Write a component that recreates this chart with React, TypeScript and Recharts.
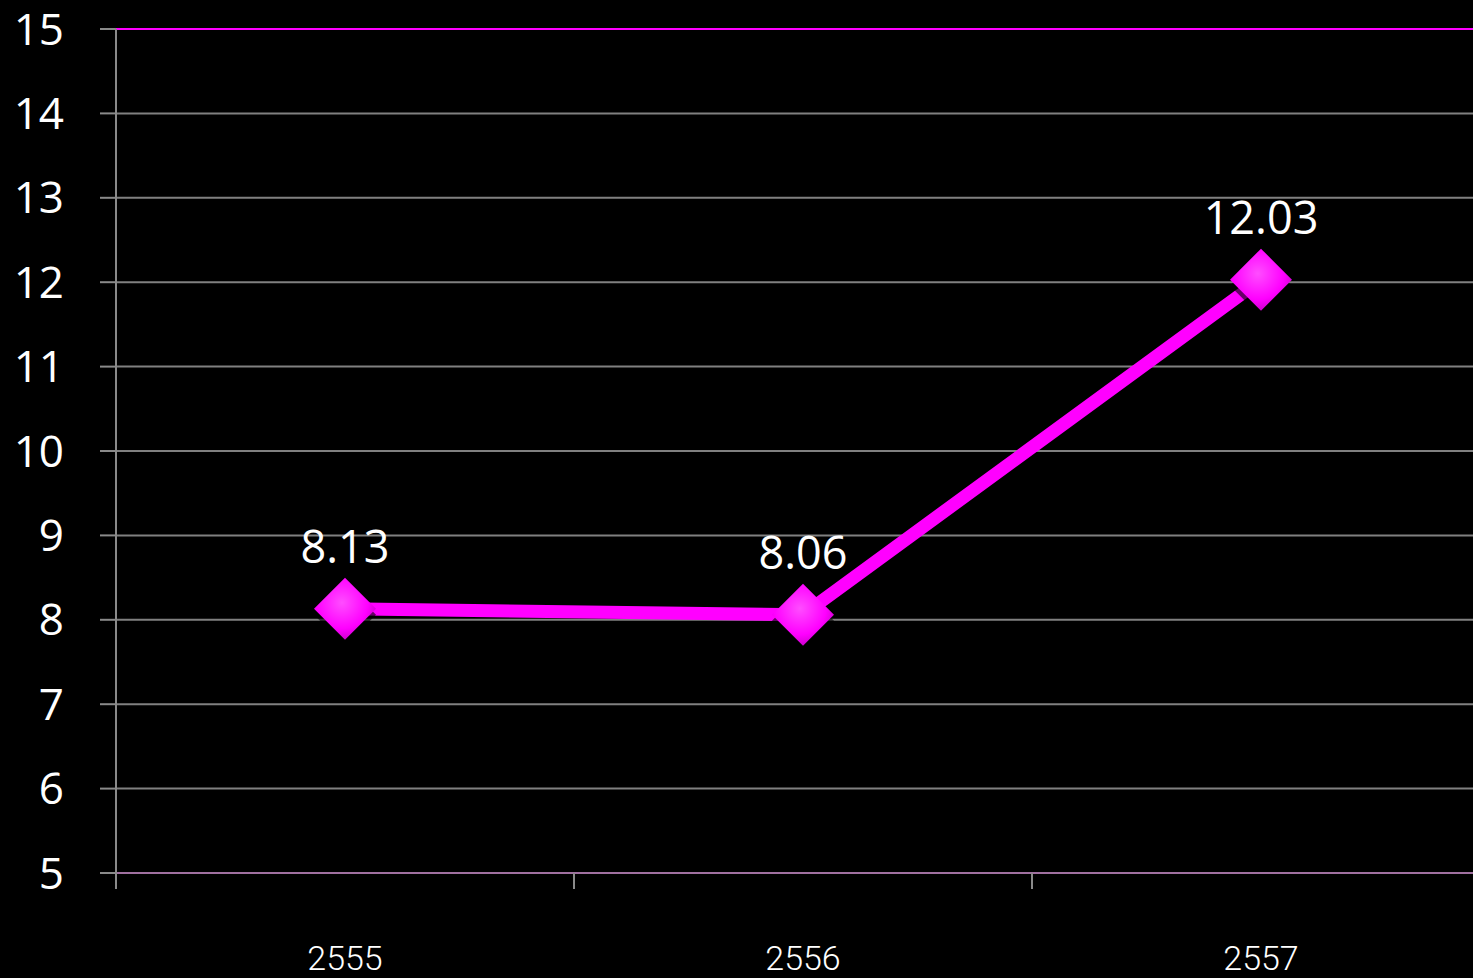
import React from 'react';
import { ComposedChart, Line, XAxis, YAxis, CartesianGrid, ReferenceLine, LabelList } from 'recharts';

const years = ['2555', '2556', '2557'];
const values = [8.13, 8.06, 12.03];
const yTicks = [5, 6, 7, 8, 9, 10, 11, 12, 13, 14, 15];

const data = years.map((year, i) => ({ year, value: values[i] }));

const CHART_W = 1490;
const CHART_H = 978;
const Y_AXIS_W = 116;
const BAND = (CHART_W - Y_AXIS_W) / years.length;

function XTick(props: any) {
  const { x, y, payload } = props;
  const left = x - BAND / 2;
  return (
    <g>
      <line x1={left} y1={y} x2={left} y2={y + 16} stroke="#8a8a8a" strokeWidth={2} />
      <text
        x={x}
        y={y + 97}
        textAnchor="middle"
        fill="#ffffff"
        fontFamily="Roboto, 'Liberation Sans', sans-serif"
        fontWeight={300}
        fontSize={34}
      >
        {payload.value}
      </text>
    </g>
  );
}

function Diamond(props: any) {
  const { cx, cy, index } = props;
  if (cx == null || cy == null) return null;
  const r = 31;
  const id = `dg-${index}`;
  return (
    <g>
      <defs>
        <radialGradient id={id} cx="45%" cy="40%" r="60%">
          <stop offset="0%" stopColor="#ff4dff" />
          <stop offset="70%" stopColor="#ff00ff" />
          <stop offset="100%" stopColor="#d000d0" />
        </radialGradient>
      </defs>
      <polygon
        points={`${cx},${cy - r + 6} ${cx + r},${cy + 6} ${cx},${cy + r + 6} ${cx - r},${cy + 6}`}
        fill="#000000"
        opacity={0.6}
      />
      <polygon
        points={`${cx},${cy - r} ${cx + r},${cy} ${cx},${cy + r} ${cx - r},${cy}`}
        fill={`url(#${id})`}
      />
    </g>
  );
}

function ValueLabel(props: any) {
  const { x, y, value } = props;
  return (
    <text
      x={x}
      y={y - 46}
      textAnchor="middle"
      fill="#ffffff"
      fontFamily="'Open Sans', sans-serif"
      fontSize={45}
    >
      {value}
    </text>
  );
}

export default function App() {
  return (
    <div
      style={{
        position: 'absolute',
        left: 0,
        top: 0,
        width: 1473,
        height: 978,
        overflow: 'hidden',
        background: '#000000',
      }}
    >
      <ComposedChart width={CHART_W} height={CHART_H} data={data} margin={{ top: 29, right: 0, bottom: 0, left: 0 }}>
        <CartesianGrid vertical={false} stroke="#808080" strokeWidth={2} />
        <XAxis
          dataKey="year"
          scale="band"
          height={105}
          tickSize={0}
          tickMargin={0}
          axisLine={{ stroke: '#a070a0', strokeWidth: 2 }}
          tickLine={false}
          tick={<XTick />}
          interval={0}
        />
        <YAxis
          width={Y_AXIS_W}
          domain={[5, 15]}
          ticks={yTicks}
          interval={0}
          tickSize={16}
          tickMargin={36}
          axisLine={{ stroke: '#8a8a8a', strokeWidth: 2 }}
          tickLine={{ stroke: '#8a8a8a', strokeWidth: 2 }}
          tick={{ fill: '#ffffff', fontSize: 44, fontFamily: "'Open Sans', sans-serif" }}
        />
        <ReferenceLine y={15} stroke="#ff00ff" strokeWidth={2} />
        <Line
          dataKey="value"
          stroke="#ff00ff"
          strokeWidth={13}
          isAnimationActive={false}
          dot={<Diamond />}
          activeDot={false}
        >
          <LabelList dataKey="value" content={<ValueLabel />} />
        </Line>
      </ComposedChart>
    </div>
  );
}
